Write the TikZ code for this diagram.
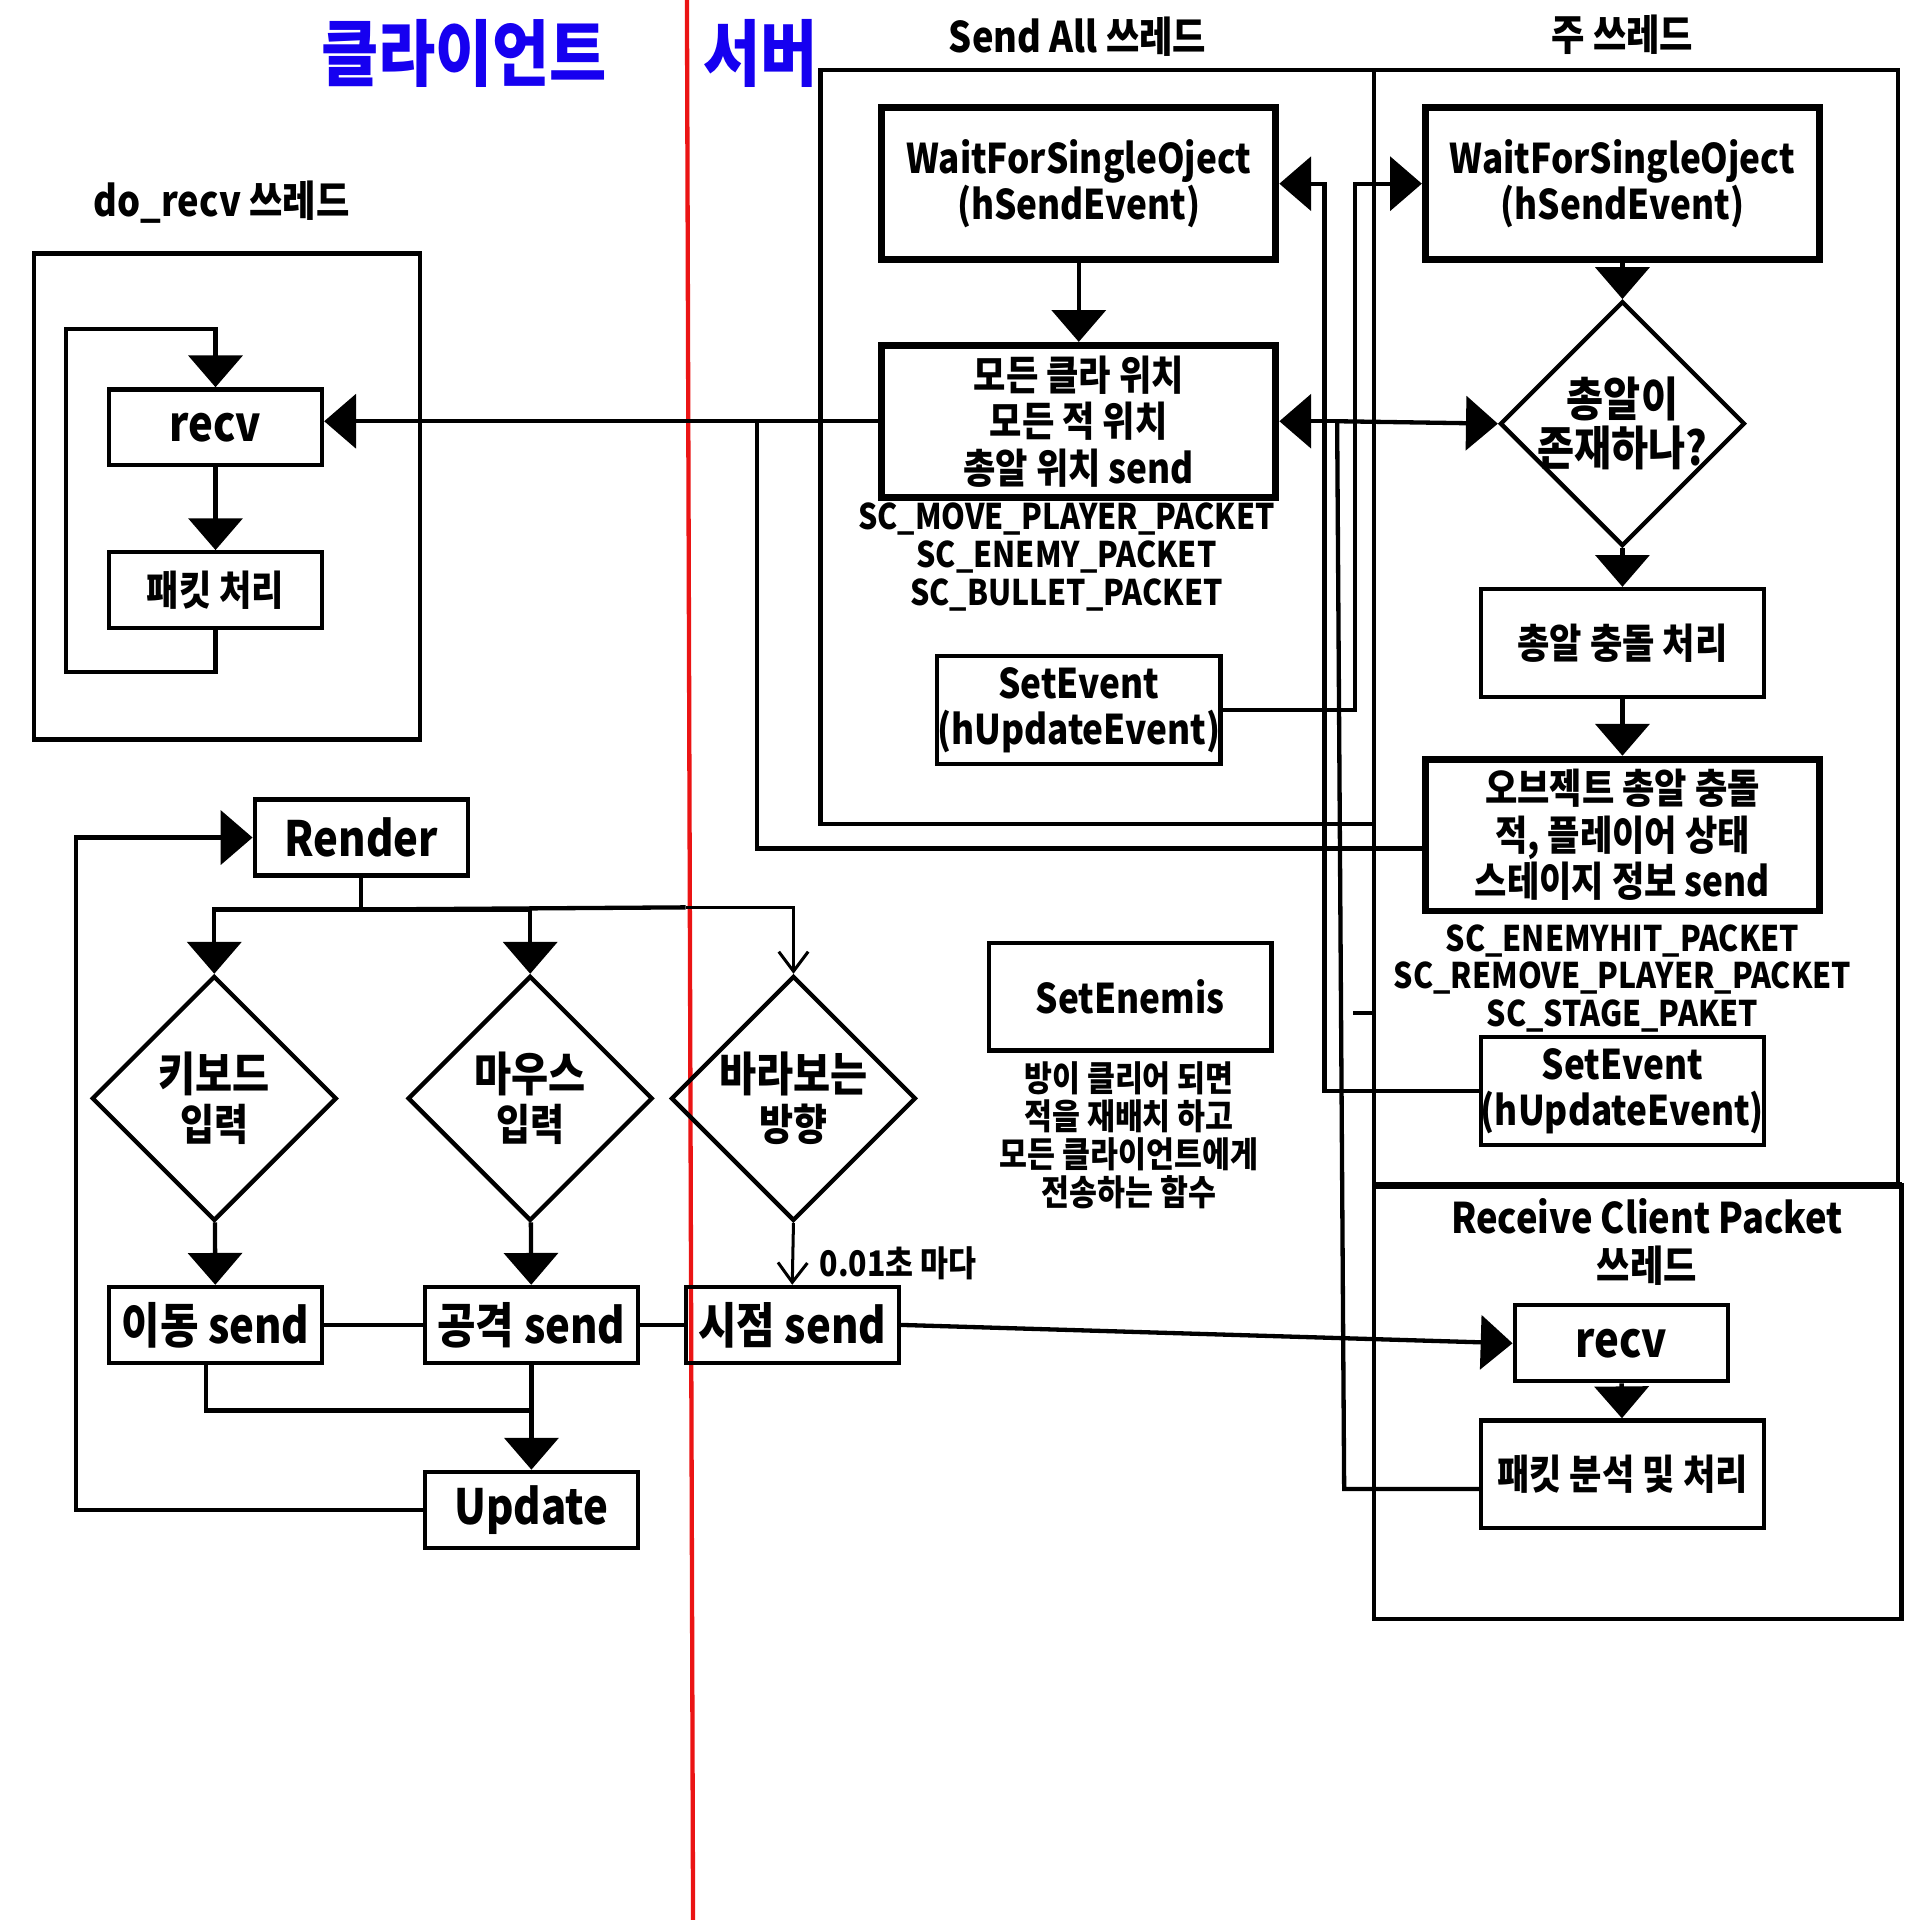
\documentclass[tikz,border=0pt]{standalone}
\usepackage{fontspec}
\setmainfont{Noto Sans CJK KR}[FakeStretch=0.86]
\usetikzlibrary{arrows.meta,shapes.geometric}
\definecolor{titleBlue}{RGB}{22,0,240}
\definecolor{splitRed}{RGB}{235,20,20}
\tikzset{
  txtL/.style={font=\fontsize{11.3}{12}\selectfont\bfseries},
  txtM/.style={font=\fontsize{9.5}{10.8}\selectfont\bfseries},
  txtS/.style={font=\fontsize{8.2}{8.8}\selectfont\bfseries},
  box/.style={draw,line width=1pt,align=center,inner sep=0pt,minimum width=17.4mm,minimum height=6.2mm},
  heavybox/.style={box,line width=1.6pt,minimum width=32.2mm,minimum height=12.4mm},
  midbox/.style={box,minimum width=23.1mm,minimum height=8.8mm},
  dia/.style={draw,diamond,line width=1pt,inner sep=0pt,minimum width=20mm,minimum height=20mm},
  diatxt/.style={align=center,font=\fontsize{10.9}{11.4}\selectfont\bfseries},
  frame/.style={line width=1pt},
  link/.style={line width=1pt},
  arr/.style={link,-{Triangle[length=2.6mm,width=4.4mm]}},
  thinarr/.style={line width=0.7pt,-{Straight Barb[length=1.6mm,width=2.4mm]}},
  title/.style={text=titleBlue,font=\fontsize{16.8}{18}\selectfont\bfseries},
  head/.style={font=\fontsize{9.8}{11.2}\selectfont\bfseries,align=center}
}
\begin{document}
\begin{tikzpicture}[x=0.1mm,y=-0.1mm]
\useasboundingbox (0,0) rectangle (1568,1568);
\draw[splitRed,line width=1pt] (561,0) -- (566,1568);

\node[title] (tClient) at (379,44) {클라이언트};
\node[title] (tServer) at (621,44) {서버};
\node[head] (tRecvThr) at (181,165) {do\_recv 쓰레드};
\node[head] (tSendAll) at (880,30) {Send All 쓰레드};
\node[head] (tMain) at (1325,28) {주 쓰레드};
\node[head] (tRcvCli) at (1345,1014) {Receive Client Packet\\쓰레드};

\draw[frame] (28,207) rectangle (343,604);
\draw[frame] (670,57) rectangle (1122,673);
\draw[frame] (1122,57) rectangle (1550,968);
\draw[frame] (1122,968) rectangle (1553,1322);
\draw[line width=1.6pt] (1122,968) -- (1553,968);

\node[box,txtL] (recvC) at (176,349) {recv};
\node[box,txtM] (pktC) at (176,482) {패킷 처리};
\node[box,txtL] (render) at (295,684) {Render};
\node[dia,label={[diatxt]center:{키보드\\{\fontsize{10}{10}\selectfont 입력}}}] (kbd) at (175,897) {};
\node[dia,label={[diatxt]center:{마우스\\{\fontsize{10}{10}\selectfont 입력}}}] (mouse) at (433,897) {};
\node[dia,label={[diatxt]center:{바라보는\\{\fontsize{10}{10}\selectfont 방향}}}] (view) at (648,897) {};
\node[box,txtL] (moveS) at (176,1082) {이동 send};
\node[box,txtL] (atkS) at (434,1082) {공격 send};
\node[box,txtL] (viewS) at (647,1082) {시점 send};
\node[box,txtL] (update) at (434,1233) {Update};
\node[txtS,anchor=west] (rate) at (657,1032) {0.01초 마다};

\node[heavybox,txtM] (waitL) at (881,150) {WaitForSingleOject\\(hSendEvent)};
\node[heavybox,txtM] (allPos) at (881,344) {모든 클라 위치\\모든 적 위치\\총알 위치 send};
\node[txtS,align=center] (pktList1) at (871,455) {SC\_MOVE\_PLAYER\_PACKET\\SC\_ENEMY\_PACKET\\SC\_BULLET\_PACKET};
\node[midbox,txtM] (setEvL) at (881,580) {SetEvent\\(hUpdateEvent)};
\node[midbox,txtM] (setEnemy) at (923,814) {SetEnemis};
\node[txtS,align=center] (enemyNote) at (922,927) {방이 클리어 되면\\적을 재배치 하고\\모든 클라이언트에게\\전송하는 함수};

\node[heavybox,txtM] (waitR) at (1325,150) {WaitForSingleOject\\(hSendEvent)};
\node[dia,label={[diatxt]center:{총알이\\존재하나?}}] (bulletQ) at (1325,346) {};
\node[midbox,txtM] (bulletHit) at (1325,525) {총알 충돌 처리};
\node[heavybox,txtM] (objSend) at (1325,682) {오브젝트 총알 충돌\\적, 플레이어 상태\\스테이지 정보 send};
\node[txtS,align=center] (pktList2) at (1325,799) {SC\_ENEMYHIT\_PACKET\\SC\_REMOVE\_PLAYER\_PACKET\\SC\_STAGE\_PAKET};
\node[midbox,txtM] (setEvR) at (1325,891) {SetEvent\\(hUpdateEvent)};
\node[box,txtL] (recvS) at (1324,1097) {recv};
\node[midbox,txtM] (pktS) at (1325,1204) {패킷 분석 및 처리};

\draw[arr] (recvC) -- (pktC);
\draw[arr] (pktC.south) -- ++(0,34) -- ++(-122,0) -- ++(0,-280) -| (recvC.north);
\draw[arr] (allPos.west) -- (allPos.west -| recvC.east);
\coordinate (joinL) at (618,344);
\draw[link] ([yshift=-1.1mm]objSend.west) -| (joinL);

\draw[arr] (update.west) -- ++(-283,0) |- (render.west);
\draw[link] (render.south) -- ++(0,26) coordinate (split);
\coordinate (splitR) at (560,741);
\draw[arr] (split) -| (kbd.north);
\draw[arr] (split) -| (mouse.north);
\draw[link] (split) -- (splitR);
\draw[thinarr] (splitR) -| (view.north);
\draw[arr] (kbd) -- (moveS);
\draw[arr] (mouse) -- (atkS);
\draw[thinarr] (view.south) -- (viewS.north);
\draw[link] (moveS) -- (atkS);
\draw[link] (atkS) -- (viewS);
\draw[link] ([xshift=-0.8mm]moveS.south) |- (atkS.south |- 0,1152);
\draw[arr] (atkS) -- (update);
\draw[arr] (viewS.east) -- (recvS.west);

\draw[arr] (waitL) -- (allPos);
\draw[arr] (waitR) -- (bulletQ);
\draw[arr] (bulletQ) -- (bulletHit);
\draw[arr] (bulletHit) -- (objSend);
\draw[arr] (recvS) -- (pktS);
\draw[arr] (setEvL.east) -- ++(108,0) |- (waitR.west);
\draw[arr] (setEvR.west) -- ++(-126,0) |- (waitL.east);
\coordinate (hub) at (1092,344);
\draw[link] ([yshift=-1.2mm]pktS.west) -- ++(-110,0) -- (hub);
\draw[arr] (hub) -- (allPos.east);
\draw[arr] (hub) -- (bulletQ.west);
\draw[link] (1105,827) -- (1122,827);
\end{tikzpicture}
\end{document}
